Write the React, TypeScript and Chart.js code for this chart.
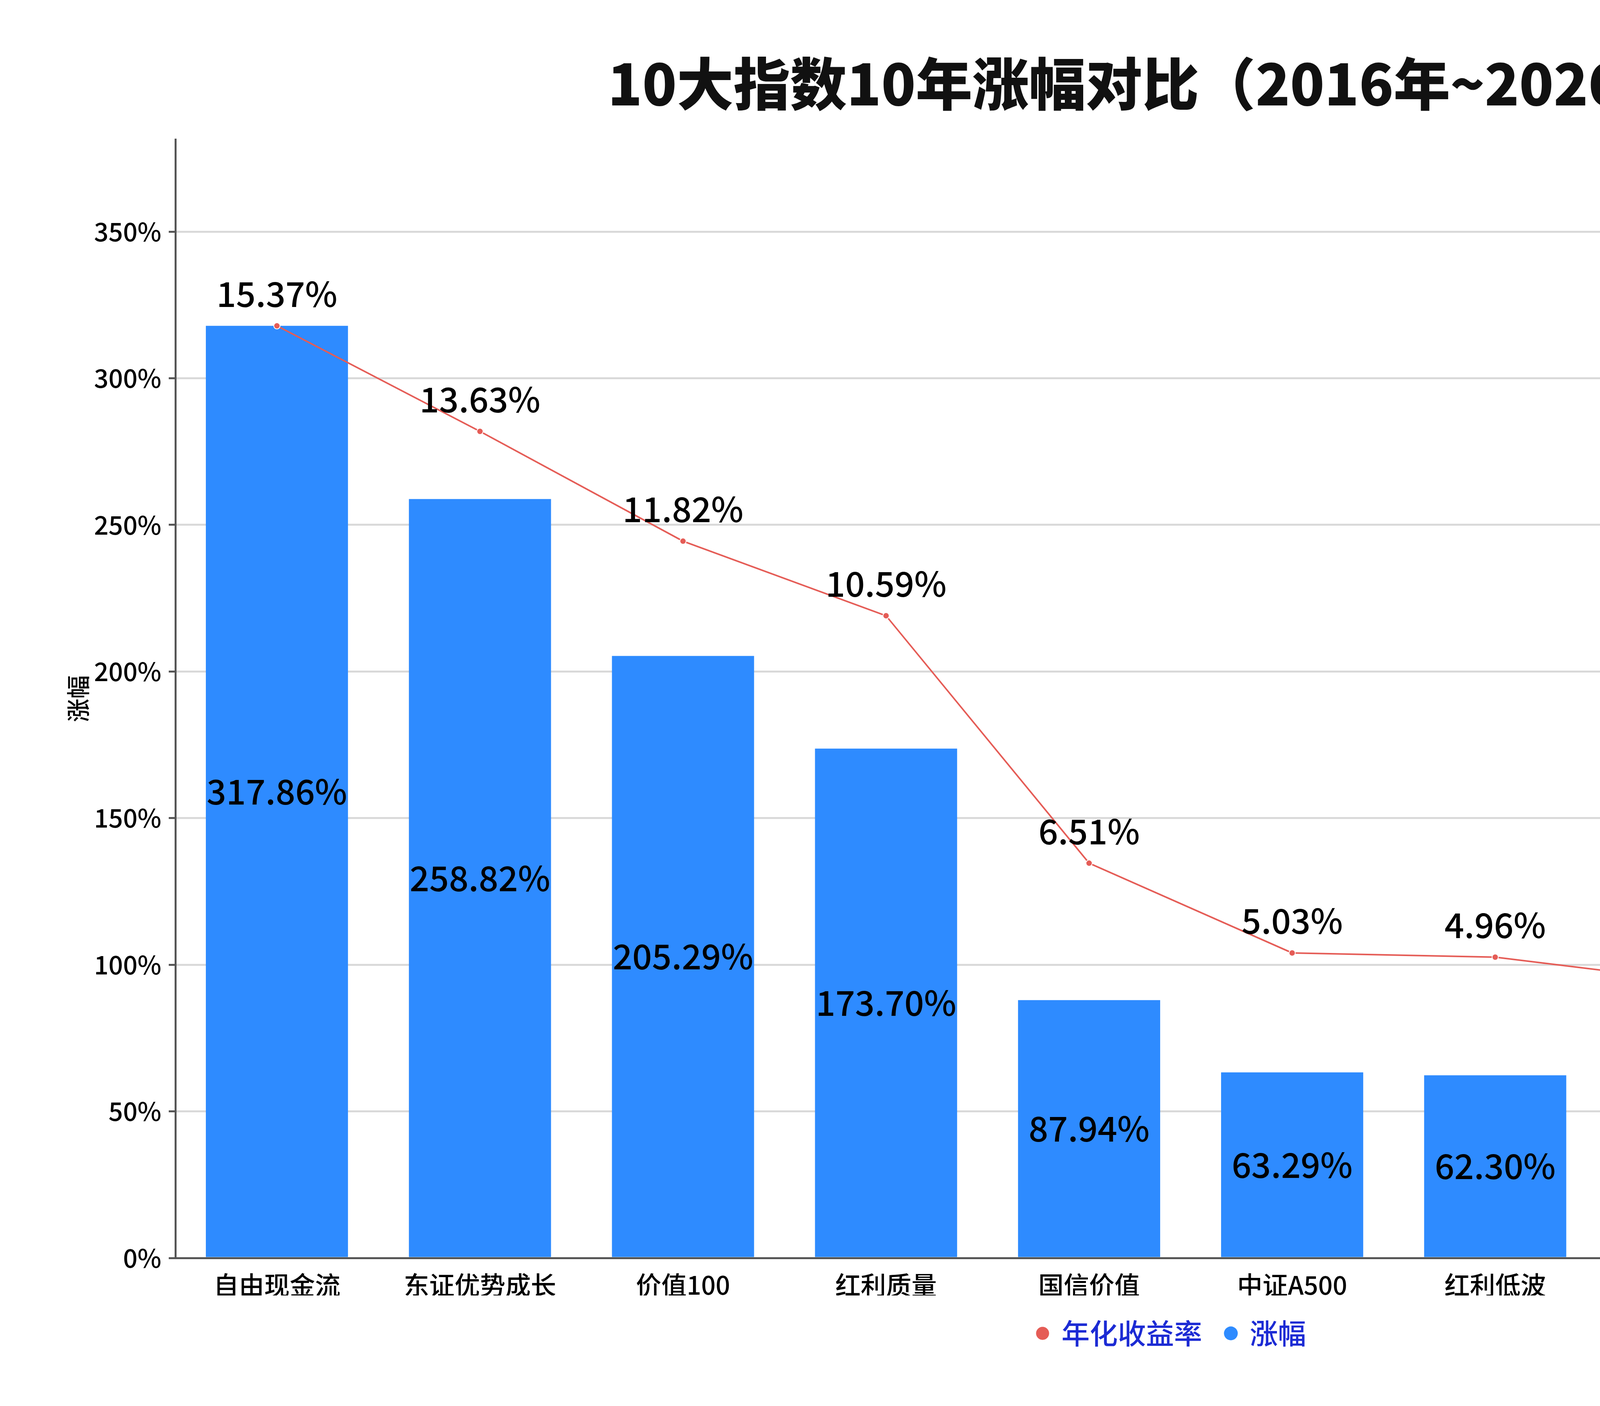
import { useEffect, useRef } from 'react';
import { Chart, registerables } from 'chart.js';

Chart.register(...registerables);

const FONT = '"Noto Sans CJK SC", "Noto Sans", sans-serif';

// data
const indexNames = ['自由现金流', '东证优势成长', '价值100', '红利质量', '国信价值', '中证A500', '红利低波', '中证500', '沪深300', '中证1000'];
const totalGain = [317.86, 258.82, 205.29, 173.7, 87.94, 63.29, 62.3, 56.06, 49.38, -0.8];
const annualReturn = [15.37, 13.63, 11.82, 10.59, 6.51, 5.03, 4.96, 4.55, 4.09, -0.08];

const barColor = '#2e8bff';
const lineColor = '#e55c56';

// draws the % labels: mid-bar for the bars, above the points for the line
const valueLabels = {
  id: 'valueLabels',
  afterDatasetsDraw(chart: any) {
    const ctx = chart.ctx;
    ctx.save();
    ctx.font = `500 88px ${FONT}`;
    ctx.fillStyle = '#000';
    ctx.textAlign = 'center';
    ctx.textBaseline = 'middle';

    const bars = chart.getDatasetMeta(1);
    bars.data.forEach((el: any, i: number) => {
      const v = totalGain[i];
      if (v <= 0) return;
      ctx.fillText(v.toFixed(2) + '%', el.x, (el.y + el.base) / 2);
    });

    const pts = chart.getDatasetMeta(0);
    pts.data.forEach((el: any, i: number) => {
      ctx.fillText(annualReturn[i].toFixed(2) + '%', el.x, el.y - 82);
    });
    ctx.restore();
  },
};

export default function App() {
  const canvasRef = useRef<HTMLCanvasElement>(null);
  const chartRef = useRef<Chart | null>(null);

  useEffect(() => {
    document.body.style.margin = '0';
    if (!canvasRef.current) return;
    if (chartRef.current) chartRef.current.destroy();

    const gainMax = Math.max(...totalGain) * 1.2;
    const annualMax = Math.max(...annualReturn) * 1.2;

    chartRef.current = new Chart(canvasRef.current, {
      type: 'bar',
      data: {
        labels: indexNames,
        datasets: [
          {
            type: 'line',
            label: '年化收益率',
            data: annualReturn,
            yAxisID: 'y1',
            borderColor: lineColor,
            borderWidth: 4,
            backgroundColor: lineColor,
            pointBackgroundColor: lineColor,
            pointBorderColor: '#fff',
            pointBorderWidth: 2,
            pointRadius: 8,
            tension: 0,
            clip: false,
          } as any,
          {
            type: 'bar',
            label: '涨幅',
            data: totalGain,
            yAxisID: 'y',
            backgroundColor: barColor,
            barPercentage: 0.7,
            categoryPercentage: 1,
          },
        ],
      },
      options: {
        responsive: false,
        animation: false,
        devicePixelRatio: 1,
        layout: { padding: { left: 100, right: 100, top: 0, bottom: 140 } },
        plugins: {
          title: {
            display: true,
            text: '10大指数10年涨幅对比（2016年~2026年）',
            color: '#111',
            font: { family: FONT, size: 145, weight: 900 },
            padding: { top: 128, bottom: 55 },
          },
          legend: {
            position: 'bottom',
            labels: {
              usePointStyle: true,
              pointStyle: 'circle',
              boxWidth: 25,
              boxHeight: 25,
              padding: 61,
              color: '#1c2bd4',
              font: { family: FONT, size: 72, weight: 500 },
            },
          },
          tooltip: { enabled: false },
        },
        scales: {
          x: {
            afterFit: (s: any) => { s.height = s.height - 42; },
            grid: { display: false, drawTicks: false },
            border: { color: '#555', width: 5 },
            ticks: { color: '#000', padding: 30, font: { family: FONT, size: 65, weight: 500 } },
          },
          y: {
            position: 'left',
            min: 0,
            max: gainMax,
            afterFit: (s: any) => { s.width = 349; },
            afterBuildTicks: (s: any) => { s.ticks = s.ticks.filter((t: any) => t.value % 50 === 0); },
            ticks: {
              stepSize: 50,
              color: '#000',
              padding: 19,
              font: { family: FONT, size: 65, weight: 500 },
              callback: (v: any) => v + '%',
            },
            grid: { color: '#d9d9d9', lineWidth: 5, tickColor: '#555', tickLength: 17, tickWidth: 5 },
            border: { color: '#555', width: 5 },
            title: {
              display: true,
              text: '涨幅',
              color: '#000',
              font: { family: FONT, size: 60, weight: 500 },
              padding: { top: 64, bottom: 0 },
            },
          },
          y1: {
            position: 'right',
            min: 0,
            max: annualMax,
            afterFit: (s: any) => { s.width = 253; },
            afterBuildTicks: (s: any) => { s.ticks = s.ticks.filter((t: any) => t.value % 2 === 0); },
            ticks: {
              stepSize: 2,
              color: '#000',
              padding: 21,
              font: { family: FONT, size: 65, weight: 500 },
            },
            grid: { drawOnChartArea: false, tickColor: '#555', tickLength: 14, tickWidth: 5 },
            border: { color: '#555', width: 5 },
            title: {
              display: true,
              text: '年化收益率',
              color: '#000',
              font: { family: FONT, size: 60, weight: 500 },
              padding: { top: 64, bottom: 0 },
            },
          },
        },
      },
      plugins: [valueLabels],
    });

    return () => {
      if (chartRef.current) {
        chartRef.current.destroy();
        chartRef.current = null;
      }
    };
  }, []);

  return (
    <div style={{ position: 'absolute', left: 0, top: 0, width: 6000, height: 3600, background: '#fff' }}>
      <canvas ref={canvasRef} width={6000} height={3600} />
    </div>
  );
}
